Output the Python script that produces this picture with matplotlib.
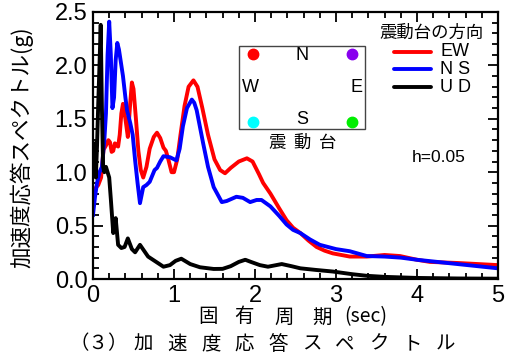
import matplotlib
matplotlib.use("Agg")
import matplotlib.pyplot as plt
from matplotlib.patches import Rectangle
from matplotlib.ticker import MultipleLocator

# ---------------- data ----------------
ew_t = [0.0, 0.03, 0.065, 0.10, 0.13, 0.16, 0.19, 0.21, 0.23, 0.25, 0.27, 0.29, 0.31, 0.33, 0.35,
        0.37, 0.40, 0.43, 0.46, 0.48, 0.50, 0.53, 0.56, 0.59, 0.62, 0.66, 0.70, 0.75, 0.79, 0.83,
        0.87, 0.90, 0.93, 0.97, 1.00, 1.04, 1.08, 1.13, 1.18, 1.24, 1.29, 1.35, 1.42, 1.50, 1.57,
        1.63, 1.70, 1.80, 1.90, 1.97, 2.05, 2.10, 2.19, 2.30, 2.39, 2.47, 2.56, 2.66, 2.76, 2.86,
        2.96, 3.17, 3.38, 3.60, 3.79, 4.00, 4.16, 4.50, 5.00]
ew_v = [0.78, 0.85, 0.88, 0.95, 1.21, 1.25, 1.30, 1.28, 1.19, 1.20, 1.27, 1.25, 1.24, 1.35, 1.55,
        1.64, 1.50, 1.33, 1.65, 1.84, 1.78, 1.50, 1.20, 1.02, 0.95, 1.05, 1.22, 1.33, 1.37, 1.32,
        1.23, 1.20, 1.12, 1.00, 1.00, 1.12, 1.35, 1.62, 1.80, 1.86, 1.80, 1.60, 1.35, 1.12, 1.02,
        0.99, 1.04, 1.10, 1.13, 1.10, 0.98, 0.90, 0.80, 0.66, 0.55, 0.48, 0.43, 0.36, 0.30, 0.265,
        0.24, 0.21, 0.21, 0.225, 0.215, 0.18, 0.16, 0.15, 0.13]

ns_t = [0.0, 0.025, 0.05, 0.08, 0.11, 0.14, 0.16, 0.18, 0.20, 0.22, 0.24, 0.26, 0.28, 0.30, 0.32,
        0.35, 0.37, 0.40, 0.42, 0.46, 0.49, 0.52, 0.55, 0.58, 0.62, 0.66, 0.70, 0.76, 0.79, 0.83,
        0.87, 0.95, 1.03, 1.07, 1.11, 1.16, 1.22, 1.25, 1.28, 1.36, 1.42, 1.49, 1.59, 1.65, 1.77,
        1.85, 1.94, 2.02, 2.08, 2.19, 2.30, 2.39, 2.47, 2.56, 2.68, 2.80, 3.00, 3.17, 3.38, 3.60,
        3.80, 4.00, 4.50, 5.00]
ns_v = [0.60, 0.77, 0.90, 1.00, 1.05, 1.30, 1.55, 2.10, 2.41, 2.10, 1.60, 1.70, 2.05, 2.21, 2.15,
        2.00, 1.90, 1.70, 1.58, 1.46, 1.35, 1.11, 0.90, 0.71, 0.86, 0.88, 0.91, 1.02, 1.04, 1.10,
        1.15, 1.14, 1.11, 1.22, 1.43, 1.60, 1.68, 1.65, 1.58, 1.27, 1.05, 0.86, 0.72, 0.73, 0.77,
        0.76, 0.72, 0.74, 0.74, 0.68, 0.59, 0.51, 0.46, 0.43, 0.37, 0.32, 0.28, 0.26, 0.215, 0.21,
        0.20, 0.18, 0.14, 0.10]

ud_t = [0.0, 0.02, 0.035, 0.05, 0.065, 0.08, 0.095, 0.11, 0.125, 0.14, 0.16, 0.18, 0.20, 0.22,
        0.25, 0.28, 0.31, 0.35, 0.39, 0.43, 0.48, 0.52, 0.58, 0.68, 0.78, 0.87, 0.95, 1.02, 1.09,
        1.20, 1.32, 1.49, 1.60, 1.70, 1.80, 1.88, 1.95, 2.06, 2.16, 2.33, 2.45, 2.56, 2.75, 2.96,
        3.20, 3.38, 3.60, 3.80, 4.00, 4.50, 5.00]
ud_v = [1.20, 1.27, 0.95, 1.25, 1.65, 2.00, 2.38, 1.60, 1.05, 1.00, 1.05, 1.00, 0.95, 0.75,
        0.43, 0.57, 0.32, 0.29, 0.30, 0.38, 0.28, 0.25, 0.32, 0.21, 0.16, 0.115, 0.13, 0.17, 0.19,
        0.14, 0.11, 0.094, 0.095, 0.12, 0.16, 0.18, 0.16, 0.13, 0.115, 0.14, 0.12, 0.10, 0.085, 0.07,
        0.045, 0.03, 0.02, 0.015, 0.01, 0.005, 0.003]

series_labels = ["EW", "N S", "U D"]
series_colors = ["#ff0000", "#0000ff", "#000000"]
legend_title = "震動台の方向"
inset_dot_colors = ["#ff0000", "#8800ee", "#00ffff", "#00ee00"]

# ---------------- figure ----------------
W, H = 514, 357
fig = plt.figure(figsize=(W / 100, H / 100), dpi=100)
AXL, AXR, AXT, AXB = 93, 498, 12, 279
ax = fig.add_axes([AXL / W, (H - AXB) / H, (AXR - AXL) / W, (AXB - AXT) / H])

LAT = "Liberation Sans"
CJK = "Noto Sans CJK JP"

def fx(px):
    return px / W

def fy(py):
    return 1 - py / H

def axx(px):
    return (px - AXL) / (AXR - AXL)

def axy(py):
    return (AXB - py) / (AXB - AXT)

lw = 2.8
ax.plot(ew_t, ew_v, color=series_colors[0], lw=lw, solid_joinstyle="round")
ax.plot(ns_t, ns_v, color=series_colors[1], lw=lw, solid_joinstyle="round")
ax.plot(ud_t, ud_v, color=series_colors[2], lw=lw, solid_joinstyle="round")

ax.set_xlim(0, 5)
ax.set_ylim(0, 2.5)
ax.xaxis.set_major_locator(MultipleLocator(1))
ax.xaxis.set_minor_locator(MultipleLocator(0.2))
ax.yaxis.set_major_locator(MultipleLocator(0.5))
ax.yaxis.set_minor_locator(MultipleLocator(0.1))
ax.yaxis.set_major_formatter(matplotlib.ticker.FormatStrFormatter("%.1f"))
ax.tick_params(which="both", direction="in", top=True, right=True, width=1.3, color="black")
ax.tick_params(which="major", length=7, labelsize=17, pad=4)
ax.tick_params(which="minor", length=4)
for lab in ax.get_xticklabels() + ax.get_yticklabels():
    lab.set_fontfamily(LAT)
for sp in ax.spines.values():
    sp.set_linewidth(1.6)

# y label
fig.text(fx(22), fy(147), "加速度応答スペクトル(g)", rotation=90, ha="center", va="center",
         fontsize=15.5, family=[CJK, "DejaVu Sans"])

# x label (spaced characters)
for ch, cx in zip("固有周期", [207.5, 244, 284, 322]):
    fig.text(fx(cx), fy(317), ch, ha="center", va="center", fontsize=14, family=[CJK])
fig.text(fx(366), fy(317), "(sec)", ha="center", va="center", fontsize=14, family=[CJK])

# caption
fig.text(fx(98.5), fy(344), "（３）", ha="center", va="center", fontsize=14, family=[CJK])
for i, ch in enumerate("加速度応答スペクトル"):
    fig.text(fx(143.5 + i * 33.6), fy(344), ch, ha="center", va="center", fontsize=14, family=[CJK])

# inset box (shaking table)
ax.add_patch(Rectangle((axx(239), axy(129)), axx(365) - axx(239), axy(46) - axy(129),
                       transform=ax.transAxes, fill=False, edgecolor="#444444", lw=1.0, zorder=5))
dot_pos = [(253, 54), (352, 54), (253, 122), (352, 122)]
for (px, py), c in zip(dot_pos, inset_dot_colors):
    ax.plot([axx(px)], [axy(py)], "o", color=c, ms=7.5, mec=c, transform=ax.transAxes, zorder=6)
for s, (px, py) in zip("NWES", [(302, 56), (250, 88), (357, 88), (302, 120)]):
    ax.text(axx(px), axy(py), s, transform=ax.transAxes, ha="center", va="center",
            fontsize=13, family=LAT, zorder=6)
for ch, cx in zip("震動台", [277, 301.5, 327.5]):
    ax.text(axx(cx), axy(143), ch, transform=ax.transAxes, ha="center", va="center",
            fontsize=12.5, family=[CJK])

# legend (manual)
ax.text(axx(432), axy(33), legend_title, transform=ax.transAxes, ha="center", va="center",
        fontsize=12.5, family=[CJK])
for lab, c, py in zip(series_labels, series_colors, [52, 69, 87]):
    ax.plot([axx(394), axx(431)], [axy(py), axy(py)], color=c, lw=lw, transform=ax.transAxes,
            solid_capstyle="round")
    ax.text(axx(440), axy(py), lab, transform=ax.transAxes, ha="left", va="center",
            fontsize=13, family=LAT)

ax.text(axx(439), axy(157), "h=0.05", transform=ax.transAxes, ha="center", va="center",
        fontsize=12.5, family=LAT)

fig.savefig("out.png", dpi=100)
